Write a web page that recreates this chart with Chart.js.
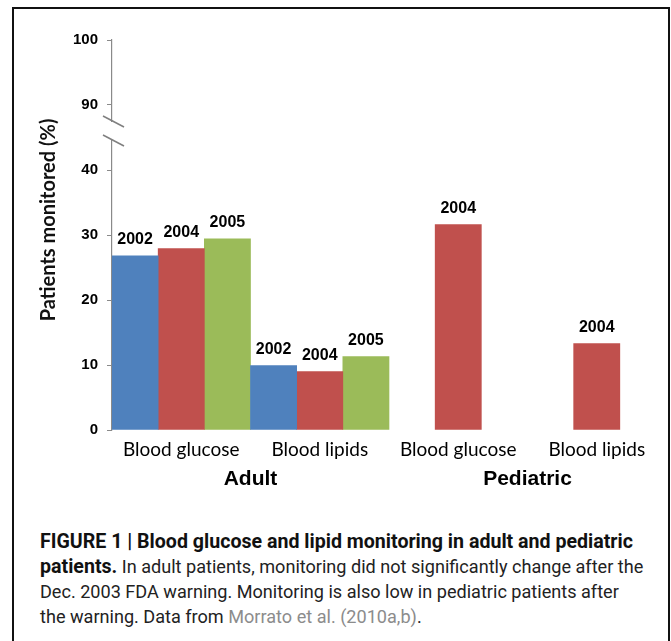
<!DOCTYPE html>
<html>
<head>
<meta charset="utf-8">
<script src="https://cdn.jsdelivr.net/npm/chart.js@4/dist/chart.umd.min.js"></script>
<style>
  html, body { margin: 0; padding: 0; background: #fff; width: 671px; height: 641px; overflow: hidden; }
  #frame { position: absolute; left: 12px; top: 7px; width: 658px; height: 700px; box-sizing: border-box;
           border-top: 2px solid #111; border-left: 2px solid #111; border-right: 2px solid #111; }
  #chartBox { position: absolute; left: 14px; top: 9px; width: 654px; height: 500px; }
  #caption { position: absolute; left: 40px; top: 529px; width: 625px; font-family: Roboto, "Liberation Sans", Arial, sans-serif;
             font-size: 18.1px; line-height: 25px; color: #222; white-space: nowrap; }
  #caption b { font-weight: bold; color: #111; font-size: 19.6px; }
  #caption .ref { color: #8c8c8c; }
</style>
</head>
<body>
<div id="frame"></div>
<div id="chartBox"><canvas id="c" width="654" height="500"></canvas></div>
<div id="caption"><b>FIGURE 1 | Blood glucose and lipid monitoring in adult and pediatric</b><br><b>patients.</b> In adult patients, monitoring did not significantly change after the<br>Dec. 2003 FDA warning. Monitoring is also low in pediatric patients after<br>the warning. Data from <span class="ref">Morrato et al. (2010a,b)</span>.</div>
<script>
// ---- data ----
const categories = ['Blood glucose', 'Blood lipids', 'Blood glucose', 'Blood lipids'];
const groups = ['Adult', 'Pediatric'];
const groupSpans = [[0, 1], [2, 3]]; // category indices covered by each group
const years = ['2002', '2004', '2005'];
const values2002 = [26.8, 9.9, null, null];
const values2004 = [27.9, 9.0, 31.6, 13.3];
const values2005 = [29.4, 11.3, null, null];
// broken axis: scale positions 0..60, positions 50 and 60 represent 90 and 100
const yTickPositions = [0, 10, 20, 30, 40, 50, 60];
const yTickLabels = ['0', '10', '20', '30', '40', '90', '100'];
const yBreakAt = 46;
const yTitle = 'Patients monitored (%)';

const colors = ['#4F81BD', '#C0504D', '#9BBB59'];
const seriesValues = [values2002, values2004, values2005];

const barLabelPlugin = {
  id: 'barLabels',
  afterDatasetsDraw(chart) {
    const ctx = chart.ctx;
    ctx.save();
    ctx.font = 'bold 16px "Liberation Sans", Arial, sans-serif';
    ctx.fillStyle = '#000';
    ctx.textAlign = 'center';
    ctx.textBaseline = 'alphabetic';
    chart.data.datasets.forEach((ds, i) => {
      const meta = chart.getDatasetMeta(i);
      meta.data.forEach((el, j) => {
        if (ds.data[j] === null || ds.data[j] === undefined) return;
        ctx.fillText(ds.label, el.x, el.y - 12);
      });
    });
    ctx.restore();
  }
};

const decorPlugin = {
  id: 'decor',
  afterDraw(chart) {
    const ys = chart.scales.y;
    const xs = chart.scales.x;
    const ctx = chart.ctx;
    const ax = chart.chartArea.left;
    const yc = ys.getPixelForValue(yBreakAt);
    ctx.save();
    // axis break
    ctx.fillStyle = '#fff';
    ctx.fillRect(ax - 3, yc - 9, 6, 18);
    ctx.strokeStyle = '#7f7f7f';
    ctx.lineWidth = 1.5;
    [-9.5, 9.5].forEach(d => {
      ctx.beginPath();
      ctx.moveTo(ax - 9, yc + d - 5.5);
      ctx.lineTo(ax + 12, yc + d + 5.5);
      ctx.stroke();
    });
    // group labels under the category labels
    ctx.font = 'bold 21px "Liberation Sans", Arial, sans-serif';
    ctx.fillStyle = '#000';
    ctx.textAlign = 'center';
    ctx.textBaseline = 'middle';
    groups.forEach((g, i) => {
      const [a, b] = groupSpans[i];
      const gx = (xs.getPixelForValue(a) + xs.getPixelForValue(b)) / 2;
      ctx.fillText(g, gx, chart.chartArea.bottom + 49);
    });
    ctx.restore();
    // y axis title, placed slightly above the axis middle as in the original
    ctx.save();
    const cy = (ys.getPixelForValue(0) + ys.getPixelForValue(60)) / 2 - 15;
    ctx.translate(ys.left + 35, cy);
    ctx.rotate(-Math.PI / 2);
    ctx.font = 'bold 20px Lato, "Open Sans", sans-serif';
    ctx.fillStyle = '#111';
    ctx.textAlign = 'center';
    ctx.textBaseline = 'middle';
    ctx.fillText(yTitle, 0, 0);
    ctx.restore();
  }
};

new Chart(document.getElementById('c'), {
  type: 'bar',
  data: {
    labels: categories,
    datasets: years.map((y, i) => ({
      label: y,
      data: seriesValues[i],
      backgroundColor: colors[i],
      borderWidth: 0,
      categoryPercentage: 1.0,
      barPercentage: 1.0
    }))
  },
  options: {
    responsive: false,
    animation: false,
    layout: { padding: { top: 31, right: 2, left: 0, bottom: 19 } },
    plugins: { legend: { display: false }, tooltip: { enabled: false } },
    scales: {
      x: {
        type: 'category',
        grid: { display: false },
        border: { display: false },
        afterFit(scale) { scale.height = 60; },
        ticks: { color: '#000', font: { family: 'Lato, "Open Sans", sans-serif', size: 19 }, padding: 0 }
      },
      y: {
        min: 0,
        max: 60,
        afterFit(scale) { scale.width = 98; },
        afterBuildTicks(scale) { scale.ticks = yTickPositions.map(v => ({ value: v })); },
        grid: { drawOnChartArea: false, drawTicks: true, tickLength: 5, color: '#8a8a8a' },
        border: { display: true, color: '#8a8a8a', width: 1.2 },
        ticks: {
          color: '#000',
          padding: 9,
          font: { family: '"Liberation Sans", Arial, sans-serif', size: 15, weight: 'bold' },
          callback(value) {
            const idx = yTickPositions.indexOf(value);
            return idx >= 0 ? yTickLabels[idx] : '';
          }
        }
      }
    }
  },
  plugins: [barLabelPlugin, decorPlugin]
});
</script>
</body>
</html>
